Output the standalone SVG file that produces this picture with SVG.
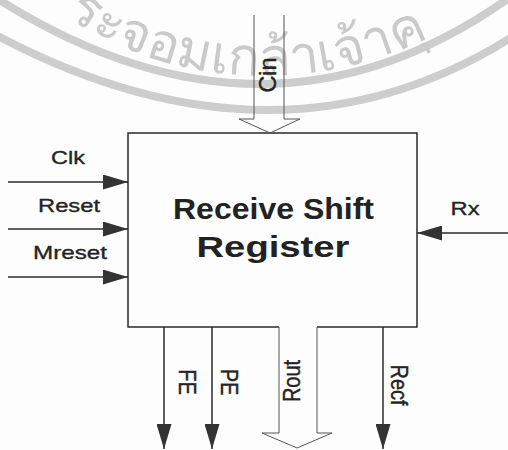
<svg xmlns="http://www.w3.org/2000/svg" width="508" height="450" viewBox="0 0 508 450">
  <style>
    .lbl { font-family: "Liberation Sans", Arial, sans-serif; font-size: 19px; fill: #242424; stroke: #242424; stroke-width: 0.35; text-anchor: middle; }
    .vlbl { font-family: "Liberation Sans", Arial, sans-serif; font-size: 20px; fill: #242424; stroke: #242424; stroke-width: 0.35; text-anchor: middle; }
    .main { font-family: "Liberation Sans", Arial, sans-serif; font-size: 29px; font-weight: bold; fill: #222; text-anchor: middle; }
    .wire { stroke: #2a2a2a; stroke-width: 1.5; fill: none; }
    .bus { stroke: #555; stroke-width: 1; fill: none; }
    .wm { fill: none; stroke: #cdcdcd; }
    .wmtext { font-family: "Noto Sans", "DejaVu Sans", sans-serif; font-size: 53px; fill: #cacaca; }
  </style>
  <defs>
    <marker id="arr" markerUnits="userSpaceOnUse" markerWidth="25" markerHeight="15" refX="25" refY="7.5" orient="auto">
      <path d="M0,0 L25,7.5 L0,15 z" fill="#333"/>
    </marker>
    <path id="wmArc" d="M40,-1.6 A365,365 0 0 0 505,-14"/>
  </defs>
  <rect width="508" height="450" fill="#fdfdfd"/>
  <g id="watermark">
    <path class="wm" stroke-width="8" d="M-10,-6 Q270,176 520,-10"/>
    <path class="wm" stroke-width="8" d="M-10,32 Q280,188 520,32"/>
    <text class="wmtext"><textPath href="#wmArc" startOffset="32">ระจอมเกล้าเจ้าคุ</textPath></text>
  </g>
  <g id="receive-shift-register">
    <path class="wire" stroke-width="1.2" d="M279,327 L128,327 L128,133 L417,133 L417,327 L317,327"/>
    <text class="main" x="273.5" y="219" textLength="201" lengthAdjust="spacingAndGlyphs">Receive Shift</text>
    <text class="main" x="273" y="257" textLength="153" lengthAdjust="spacingAndGlyphs">Register</text>
  </g>
  <g id="connectors">
    <line class="wire" x1="8" y1="182" x2="128" y2="182" marker-end="url(#arr)"/>
    <line class="wire" x1="8" y1="229" x2="128" y2="229" marker-end="url(#arr)"/>
    <line class="wire" x1="8" y1="277" x2="128" y2="277" marker-end="url(#arr)"/>
    <line class="wire" x1="508" y1="233" x2="417" y2="233" marker-end="url(#arr)"/>
    <line class="wire" x1="164" y1="327" x2="164" y2="449" marker-end="url(#arr)"/>
    <line class="wire" x1="212" y1="327" x2="212" y2="449" marker-end="url(#arr)"/>
    <line class="wire" x1="383" y1="327" x2="383" y2="449" marker-end="url(#arr)"/>
    <path class="bus" d="M254,15 L254,119 L239,119 L270,133 L300,119 L284,119 L284,15"/>
    <path class="bus" d="M279,327 L279,433 L262,433 L297,448 L332,433 L317,433 L317,327"/>
  </g>
  <g id="labels">
    <text class="lbl" x="68" y="164" textLength="34" lengthAdjust="spacingAndGlyphs">Clk</text>
    <text class="lbl" x="69" y="212" textLength="62" lengthAdjust="spacingAndGlyphs">Reset</text>
    <text class="lbl" x="70" y="259" textLength="74" lengthAdjust="spacingAndGlyphs">Mreset</text>
    <text class="lbl" x="465" y="215" textLength="29" lengthAdjust="spacingAndGlyphs">Rx</text>
    <text class="vlbl" transform="translate(275.6,75) scale(1.2,1) rotate(-90)" textLength="35" lengthAdjust="spacingAndGlyphs">Cin</text>
    <text class="vlbl" transform="translate(179.4,382) scale(1.2,1) rotate(90)">FE</text>
    <text class="vlbl" transform="translate(221.4,382) scale(1.2,1) rotate(90)">PE</text>
    <text class="vlbl" transform="translate(299.6,381) scale(1.2,1) rotate(-90)">Rout</text>
    <text class="vlbl" transform="translate(391.4,385) scale(1.2,1) rotate(90)">Recf</text>
  </g>
</svg>
